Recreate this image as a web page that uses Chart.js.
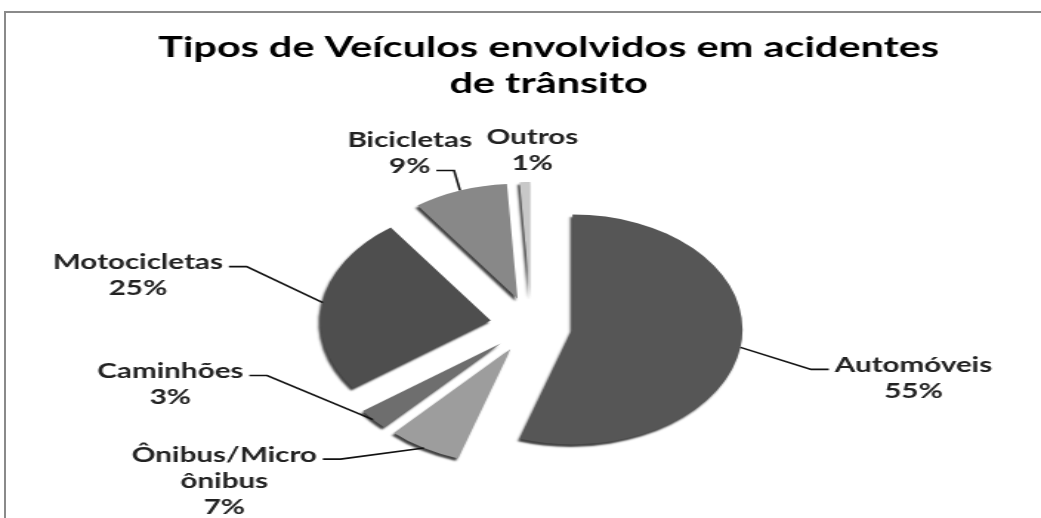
<!DOCTYPE html>
<html>
<head>
<meta charset="utf-8">
<script src="https://cdn.jsdelivr.net/npm/chart.js@4.4.1/dist/chart.umd.min.js"></script>
<style>
  html, body { margin: 0; padding: 0; background: #fff; overflow: hidden; width: 1041px; height: 518px; }
  #frame { position: absolute; left: 4px; top: 11px; width: 1100px; height: 600px; border: 2px solid #8a8a8a; box-sizing: border-box; }
  #wrap { position: absolute; left: 0; top: 0; width: 704px; height: 518px; transform-origin: 0 0; transform: scaleX(1.4787); }
</style>
</head>
<body>
<div id="frame"></div>
<div id="wrap"><canvas id="c" width="704" height="518"></canvas></div>
<script>
// ---- data ----
const titleLines = ['Tipos de Veículos envolvidos em acidentes', 'de trânsito'];
const categories = ['Automóveis', 'Ônibus/Micro ônibus', 'Caminhões', 'Motocicletas', 'Bicicletas', 'Outros'];
const shares = [55, 7, 3, 25, 9, 1];

// ---- styles / layout (not data) ----
const sliceColors = ['#565656', '#9d9d9d', '#6e6e6e', '#4e4e4e', '#888888', '#c8c8c8'];
const labelPlacement = [
  { dx: 117,  dy: 18,  attach: 0, leader: true },
  { dx: -135, dy: 7,   attach: 0, leader: true },
  { dx: -137, dy: -48, attach: 0, leader: true },
  { dx: -125, dy: -40, attach: 0, leader: true },
  { dx: -34,  dy: -50, attach: 1, leader: true },
  { dx: 5,    dy: -45, attach: 0, leader: false }
];
const EXPLODE = 28;
const LABEL_FONT = 'bold 20px Lato';
const LABEL_LINE = 26;
const LABEL_WRAP = 130;
const TITLE_FONT = 'bold 28px Lato';
const TITLE_X = 371;
const TITLE_BASELINES = [57, 93];

function wrapText(ctx, text, maxW) {
  const words = text.split(' ');
  const lines = [];
  let cur = '';
  words.forEach(w => {
    const test = cur ? cur + ' ' + w : w;
    if (cur && ctx.measureText(test).width > maxW) { lines.push(cur); cur = w; }
    else cur = test;
  });
  if (cur) lines.push(cur);
  return lines;
}

const explodePlugin = {
  id: 'explode',
  beforeDatasetDraw(chart, args) {
    const ctx = chart.ctx;
    args.meta.data.forEach(arc => {
      const mid = (arc.startAngle + arc.endAngle) / 2;
      ctx.save();
      ctx.translate(Math.cos(mid) * EXPLODE, Math.sin(mid) * EXPLODE);
      ctx.shadowColor = 'rgba(0,0,0,0.75)';
      ctx.shadowBlur = 2;
      ctx.shadowOffsetX = -1.5;
      ctx.shadowOffsetY = 2.5;
      arc.draw(ctx);
      ctx.restore();
    });
    return false;
  }
};

const labelPlugin = {
  id: 'sliceLabels',
  afterDraw(chart) {
    const ctx = chart.ctx;
    const meta = chart.getDatasetMeta(0);
    const values = chart.data.datasets[0].data;
    const total = values.reduce((a, b) => a + b, 0);
    ctx.save();
    // title
    ctx.font = TITLE_FONT;
    ctx.fillStyle = '#000';
    ctx.textAlign = 'center';
    ctx.textBaseline = 'alphabetic';
    titleLines.forEach((t, i) => ctx.fillText(t, TITLE_X, TITLE_BASELINES[i]));

    // slice labels with leader lines
    ctx.font = LABEL_FONT;
    meta.data.forEach((arc, i) => {
      const mid = (arc.startAngle + arc.endAngle) / 2;
      const r = arc.outerRadius + EXPLODE;
      const ax = arc.x + Math.cos(mid) * r;
      const ay = arc.y + Math.sin(mid) * r;
      const p = labelPlacement[i];
      const cx = ax + p.dx;
      const y0 = ay + p.dy;
      const lines = wrapText(ctx, chart.data.labels[i], LABEL_WRAP);
      lines.push(Math.round(values[i] / total * 100) + '%');
      ctx.fillStyle = '#222';
      ctx.textAlign = 'center';
      ctx.textBaseline = 'middle';
      lines.forEach((t, k) => ctx.fillText(t, cx, y0 + k * LABEL_LINE));
      if (p.leader) {
        const w = ctx.measureText(lines[p.attach]).width;
        const ly = y0 + p.attach * LABEL_LINE + 4;
        let ex, elx;
        if (p.dx < 0) { ex = cx + w / 2 + 4; elx = ex + 12; }
        else { ex = cx - w / 2 - 4; elx = ex - 12; }
        ctx.strokeStyle = '#111';
        ctx.lineWidth = 1.6;
        ctx.beginPath();
        ctx.moveTo(ax, ay);
        ctx.lineTo(elx, ly);
        ctx.lineTo(ex, ly);
        ctx.stroke();
      }
    });
    ctx.restore();
  }
};

new Chart(document.getElementById('c'), {
  type: 'pie',
  data: {
    labels: categories,
    datasets: [{
      data: shares,
      backgroundColor: sliceColors,
      borderWidth: 0
    }]
  },
  options: {
    responsive: false,
    animation: false,
    radius: 115,
    layout: { padding: { left: 15, right: 0, top: 132, bottom: 0 } },
    plugins: {
      legend: { display: false },
      title: { display: false },
      tooltip: { enabled: false }
    }
  },
  plugins: [explodePlugin, labelPlugin]
});
</script>
</body>
</html>
